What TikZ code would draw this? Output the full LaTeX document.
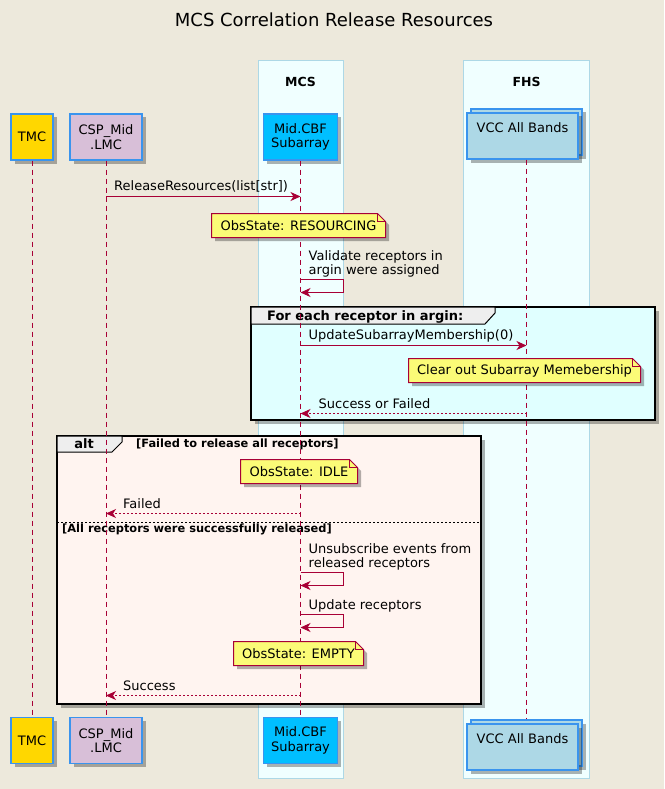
\documentclass[tikz,border=0pt]{standalone}
\usepackage{fontspec}
\setmainfont{DejaVu Sans}
\usetikzlibrary{positioning, calc, arrows.meta, shadows}

\definecolor{bgbeige}{HTML}{EDE9DC}
\definecolor{umlred}{HTML}{A80036}
\definecolor{partblue}{HTML}{3A94EE}
\definecolor{tmcgold}{HTML}{FFD700}
\definecolor{lmcthistle}{HTML}{D8BFD8}
\definecolor{cbfsky}{HTML}{00BFFF}
\definecolor{vcclight}{HTML}{ADD8E6}
\definecolor{boxazure}{HTML}{F0FFFF}
\definecolor{boxedge}{HTML}{ADD8E6}
\definecolor{notefill}{HTML}{FBFB77}
\definecolor{loopcyan}{HTML}{E0FFFF}
\definecolor{altshell}{HTML}{FFF4F0}
\definecolor{tabgray}{HTML}{EEEEEE}

\newcommand{\msgfont}{\fontsize{13}{14.5}\selectfont}
\newcommand{\grpfont}{\fontsize{13}{15}\selectfont\bfseries}
\newcommand{\condfont}{\fontsize{11.4}{13}\selectfont\bfseries}
\newcommand{\titlefont}{\fontsize{18}{21}\selectfont}
\newcommand{\boxfont}{\fontsize{12.5}{14}\selectfont\bfseries}

\tikzset{
  umlshadow/.style={drop shadow={shadow xshift=3.5pt, shadow yshift=-3.5pt, fill=black, opacity=.3}},
  part/.style={draw=partblue, line width=1.2pt, align=center, inner sep=2pt,
    minimum height=46pt, font=\msgfont, umlshadow},
  life/.style={color=umlred, line width=1pt, dash pattern=on 5pt off 4pt},
  msg/.style={draw=umlred, line width=1pt, -{Stealth[length=10pt, width=9pt, inset=3pt]}},
  ret/.style={msg, dash pattern=on 2pt off 2pt},
  lbl/.style={font=\msgfont, inner sep=0pt, anchor=base west},
  selflbl/.style={font=\msgfont, inner sep=0pt, anchor=south west, align=left},
  notebox/.style={fill=notefill, draw=umlred, line width=1pt, umlshadow},
  notetext/.style={font=\msgfont, inner sep=0pt},
  grpbox/.style={draw=black, line width=2pt, umlshadow},
  grptab/.style={fill=tabgray, draw=black, line width=1pt},
  grplbl/.style={font=\grpfont, inner sep=0pt, anchor=base west},
  condlbl/.style={font=\condfont, inner sep=0pt, anchor=base west}
}

% note with folded corner: name, x1, y1, x2, y2, text
\newcommand{\obsnote}[6]{%
  \filldraw[notebox] (#2,#3) -- (#4-8,#3) -- (#4,#3+8) -- (#4,#5) -- (#2,#5) -- cycle;
  \draw[umlred, line width=1pt] (#4-8,#3) -- (#4-8,#3+8) -- (#4,#3+8);
  \node[notetext] (#1) at ({(#2+#4)/2},{(#3+#5)/2}) {#6};
}

\begin{document}
\begin{tikzpicture}[x=1pt, y=-1pt]

    % Page background
    \fill[bgbeige] (0,0) rectangle (664,789);
    \useasboundingbox (0,0) rectangle (664,789);

    % Title
    \node[font=\titlefont, anchor=base] (title) at (334,26.5) {MCS Correlation Release Resources};

    % Participant boxes
    \filldraw[fill=boxazure, draw=boxedge] (258.5,60.5) rectangle (343.5,778.5);
    \node[font=\boxfont, anchor=base] (mcs) at (300.5,87) {MCS};
    \filldraw[fill=boxazure, draw=boxedge] (463.5,60.5) rectangle (589.5,778.5);
    \node[font=\boxfont, anchor=base] (fhs) at (526.5,87) {FHS};

    % Message rows
    \coordinate (m1) at (0,196.5);
    \coordinate (v1a) at (0,279.5);
    \coordinate (v1b) at (0,292.5);
    \coordinate (m2) at (0,345.5);
    \coordinate (m3) at (0,413.5);
    \coordinate (m4) at (0,513.5);
    \coordinate (v2a) at (0,572.5);
    \coordinate (v2b) at (0,585.5);
    \coordinate (v3a) at (0,614.5);
    \coordinate (v3b) at (0,627.5);
    \coordinate (m5) at (0,695.5);

    % Loop group
    \filldraw[grpbox, fill=loopcyan] (251,307) rectangle (655,420);
    \filldraw[grptab] (251,307) -- (495,307) -- (495,313) -- (485,324) -- (251,324) -- cycle;
    \node[grplbl] (looplbl) at (267,320) {For each receptor in argin:};

    % Alt group
    \filldraw[grpbox, fill=altshell] (57,436) rectangle (481,704);
    \filldraw[grptab] (57,436) -- (122,436) -- (122,442) -- (112,452) -- (57,452) -- cycle;
    \node[grplbl, anchor=base] (altlbl) at (84,448) {alt};
    \node[condlbl] (altcond) at (136,447.5) {[Failed to release all receptors]};
    \draw[black, line width=1pt, dash pattern=on 2pt off 2pt] (57,522.5) -- (481,522.5);
    \node[condlbl] (elsecond) at (62,532.5) {[All receptors were successfully released]};

    % Participants (top)
    \node[part, fill=tmcgold, minimum width=42pt] (tmcT) at (32,137) {TMC};
    \node[part, fill=lmcthistle, minimum width=72pt] (lmcT) at (106,137) {CSP\_Mid\\.LMC};
    \node[part, fill=cbfsky, minimum width=74pt] (cbfT) at (300.5,137) {Mid.CBF\\Subarray};
    \node[part, fill=vcclight, minimum width=111pt] (vccTb) at (526.5,132) {};
    \node[part, fill=vcclight, minimum width=111pt, text height=10pt, text depth=18pt] (vccT) at (522.5,136) {VCC All Bands};

    % Participants (bottom)
    \node[part, fill=tmcgold, minimum width=42pt] (tmcB) at (32,740.5) {TMC};
    \node[part, fill=lmcthistle, minimum width=72pt] (lmcB) at (106,740.5) {CSP\_Mid\\.LMC};
    \node[part, fill=cbfsky, minimum width=74pt] (cbfB) at (300.5,740.5) {Mid.CBF\\Subarray};
    \node[part, fill=vcclight, minimum width=111pt] (vccBb) at (526.5,743) {};
    \node[part, fill=vcclight, minimum width=111pt, text height=10pt, text depth=18pt] (vccB) at (522.5,747) {VCC All Bands};

    % Lifelines
    \draw[life] (tmcT |- tmcT.south) -- (tmcB |- tmcB.north);
    \draw[life] (lmcT |- lmcT.south) -- (lmcB |- lmcB.north);
    \draw[life] (cbfT |- cbfT.south) -- (cbfB |- cbfB.north);
    \draw[life] (vccTb |- vccT.south) -- (vccBb |- vccBb.north);

    % ReleaseResources call
    \draw[msg] (lmcT |- m1) -- (cbfT |- m1);
    \node[lbl] (m1lbl) at ($(lmcT |- m1)+(8,-6)$) {ReleaseResources(list[str])};
    \obsnote{n1}{211.5}{213.5}{385.5}{237.5}{ObsState: RESOURCING}

    % Validate receptors
    \draw[msg] (cbfT |- v1a) -- ++(43,0) |- (cbfT |- v1b);
    \node[selflbl] (v1lbl) at ($(cbfT |- v1a)+(8,-2)$) {Validate receptors in\\argin were assigned};

    % Loop body
    \draw[msg] (cbfT |- m2) -- (vccTb |- m2);
    \node[lbl] (m2lbl) at ($(cbfT |- m2)+(8,-6)$) {UpdateSubarrayMembership(0)};
    \obsnote{n2}{408.5}{358.5}{640.5}{382.5}{Clear out Subarray Memebership}
    \draw[ret] (vccTb |- m3) -- (cbfT |- m3);
    \node[lbl] (m3lbl) at ($(cbfT |- m3)+(18,-5.5)$) {Success or Failed};

    % Failed branch
    \obsnote{n3}{240.5}{459.5}{357.5}{483.5}{ObsState: IDLE}
    \draw[ret] (cbfT |- m4) -- (lmcT |- m4);
    \node[lbl] (m4lbl) at ($(lmcT |- m4)+(17,-5.5)$) {Failed};

    % Success branch
    \draw[msg] (cbfT |- v2a) -- ++(43,0) |- (cbfT |- v2b);
    \node[selflbl] (v2lbl) at ($(cbfT |- v2a)+(8,-2)$) {Unsubscribe events from\\released receptors};
    \draw[msg] (cbfT |- v3a) -- ++(43,0) |- (cbfT |- v3b);
    \node[selflbl] (v3lbl) at ($(cbfT |- v3a)+(8,-2)$) {Update receptors};
    \obsnote{n4}{233.5}{641.5}{363.5}{665.5}{ObsState: EMPTY}
    \draw[ret] (cbfT |- m5) -- (lmcT |- m5);
    \node[lbl] (m5lbl) at ($(lmcT |- m5)+(17,-5.5)$) {Success};

\end{tikzpicture}
\end{document}
